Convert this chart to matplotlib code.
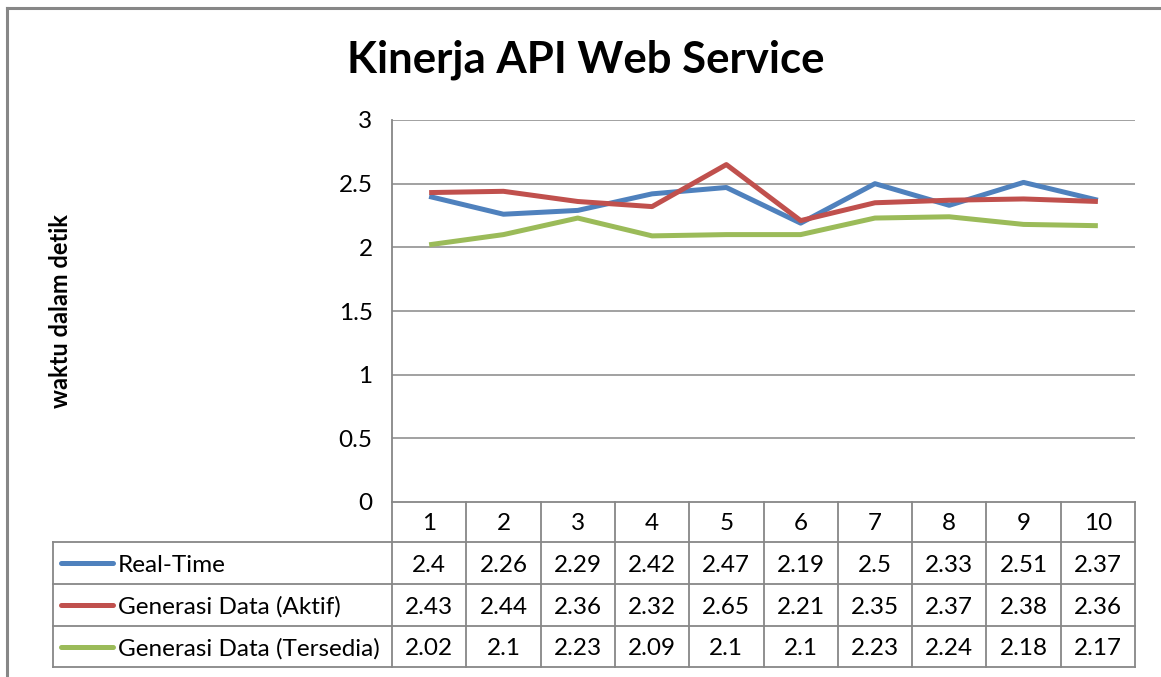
import matplotlib.pyplot as plt
from matplotlib.lines import Line2D

categories = ['1', '2', '3', '4', '5', '6', '7', '8', '9', '10']
series_names = ['Real-Time', 'Generasi Data (Aktif)', 'Generasi Data (Tersedia)']
real_time = [2.4, 2.26, 2.29, 2.42, 2.47, 2.19, 2.5, 2.33, 2.51, 2.37]
gen_aktif = [2.43, 2.44, 2.36, 2.32, 2.65, 2.21, 2.35, 2.37, 2.38, 2.36]
gen_tersedia = [2.02, 2.1, 2.23, 2.09, 2.1, 2.1, 2.23, 2.24, 2.18, 2.17]
y_ticks = [0, 0.5, 1, 1.5, 2, 2.5, 3]
y_tick_labels = ['0', '0.5', '1', '1.5', '2', '2.5', '3']

series = [real_time, gen_aktif, gen_tersedia]
colors = ['#4F81BD', '#C0504D', '#9BBB59']
GRID = '#878787'
FS = 17.5

plt.rcParams['font.family'] = ['Lato', 'DejaVu Sans']

W, H = 1161, 677
fig = plt.figure(figsize=(W / 100, H / 100), dpi=100)


def fx(px):
    return px / W


def fy(py):
    return 1 - py / H


# outer chart border (only top and left visible)
fig.add_artist(Line2D([fx(7), fx(7)], [fy(8), fy(H + 5)], color=GRID, lw=2.2))
fig.add_artist(Line2D([fx(7), fx(W + 5)], [fy(8), fy(8)], color=GRID, lw=2.2))

left, right, top, bottom = 392, 1135, 120, 502
ax = fig.add_axes([fx(left), fy(bottom), fx(right - left), (bottom - top) / H])
x = [i + 0.5 for i in range(len(categories))]
for vals, c in zip(series, colors):
    ax.plot(x, vals, color=c, lw=3.6, solid_joinstyle='round', solid_capstyle='butt', zorder=3)
ax.set_xlim(0, len(categories))
ax.set_ylim(0, 3)
ax.set_yticks(y_ticks)
ax.set_yticklabels(y_tick_labels, fontsize=FS)
ax.set_xticks([])
ax.tick_params(axis='y', length=0, pad=14)
for yt in y_ticks[1:]:
    ax.axhline(yt, color=GRID, lw=1.1, zorder=1)
for s in ['top', 'right', 'bottom']:
    ax.spines[s].set_visible(False)
ax.spines['left'].set_color(GRID)
ax.spines['left'].set_linewidth(1.3)
fig.text(fx(60), fy(311), 'waktu dalam detik', fontsize=17, fontweight='bold',
         rotation=90, ha='center', va='center')

fig.text(fx(586), fy(60), 'Kinerja API Web Service', fontsize=31.5, fontweight='bold',
         ha='center', va='center')

# data table below the axes
rows_y = [502, 542, 584, 626, 667]
leg_left = 53
col_w = (right - left) / len(categories)
lw_tab = 1.3
text_dy = 2


def hline(x0, x1, y):
    fig.add_artist(Line2D([fx(x0), fx(x1)], [fy(y), fy(y)], color=GRID, lw=lw_tab))


def vline(xp, y0, y1):
    fig.add_artist(Line2D([fx(xp), fx(xp)], [fy(y0), fy(y1)], color=GRID, lw=lw_tab))


hline(left, right, rows_y[0])
for yy in rows_y[1:]:
    hline(leg_left, right, yy)
for i in range(len(categories) + 1):
    vline(left + i * col_w, rows_y[0], rows_y[-1])
vline(leg_left, rows_y[1], rows_y[-1])

for i, cat in enumerate(categories):
    fig.text(fx(left + (i + 0.5) * col_w), fy((rows_y[0] + rows_y[1]) / 2 + text_dy), cat,
             fontsize=FS, ha='center', va='center')

for r, (name, vals, c) in enumerate(zip(series_names, series, colors)):
    yc = (rows_y[r + 1] + rows_y[r + 2]) / 2
    fig.add_artist(Line2D([fx(61), fx(113)], [fy(yc), fy(yc)], color=c, lw=3.6,
                          solid_capstyle='round'))
    fig.text(fx(118), fy(yc + text_dy), name, fontsize=FS, ha='left', va='center')
    for i, v in enumerate(vals):
        fig.text(fx(left + (i + 0.5) * col_w), fy(yc + text_dy), f'{v:g}', fontsize=FS,
                 ha='center', va='center')

fig.savefig('out.png', dpi=100)
